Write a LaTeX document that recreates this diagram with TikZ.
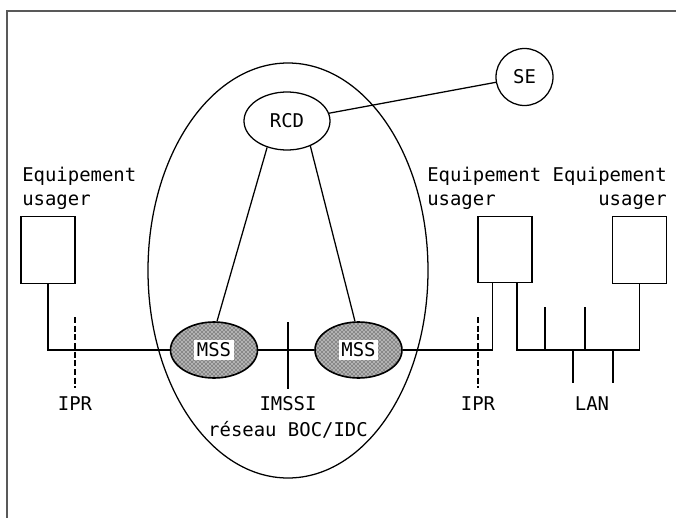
\documentclass[tikz,border=0pt]{standalone}
\usepackage{fontspec}
\setmainfont{DejaVu Sans Mono}
\usetikzlibrary{shapes.geometric,patterns}
\begin{document}
\begin{tikzpicture}[x=0.75pt,y=-0.75pt,
  every node/.style={font=\fontsize{14.2pt}{18pt}\selectfont},
  ln/.style={line width=0.95pt},
  frame/.style={line width=1.5pt,draw=black!65},
  oval/.style={ellipse,draw,line width=0.95pt,inner sep=0pt},
  mssnode/.style={oval,line width=1.2pt,preaction={fill=gray!60},pattern=crosshatch dots,
    minimum width=65.25pt,minimum height=42pt},
  box/.style={rectangle,draw,line width=0.95pt,inner sep=0pt,
    minimum width=40.5pt,minimum height=50pt},
  ipr/.style={line width=0.95pt,dash pattern=on 4.5pt off 2pt},
  lbl/.style={inner sep=0pt}]
\useasboundingbox (0,0) rectangle (676,518);
% frame
\draw[frame] (7,518) -- (7,11) -- (676,11);
% network ellipse
\node[oval,minimum width=210pt,minimum height=311.25pt] (net) at (288,270.5) {};
% nodes
\node[oval,minimum width=64.5pt,minimum height=43.5pt] (rcd) at (287,121) {RCD};
\node[oval,circle,minimum size=42.75pt] (se) at (524.5,77) {SE};
\node[mssnode] (mss1) at (214,350) {\setlength{\fboxsep}{2pt}\colorbox{white}{MSS}};
\node[mssnode] (mss2) at (358.5,350) {\setlength{\fboxsep}{2pt}\colorbox{white}{MSS}};
\node[box] (lb) at (48,250) {};
\node[box] (rb1) at (505,249.5) {};
\node[box] (rb2) at (639.5,250) {};
% labels
\node[lbl,anchor=north west,align=left] (lbltxt) at (22,167) {Equipement\\usager};
\node[lbl,anchor=north west,align=left] (rb1txt) at (427,167) {Equipement\\usager};
\node[lbl,anchor=north east,align=right] (rb2txt) at (667,167) {Equipement\\usager};
\node[lbl,anchor=base] (ipr1) at (75,410) {IPR};
\node[lbl,anchor=base] (ipr2) at (478,410) {IPR};
\node[lbl,anchor=base] (lan) at (592,410) {LAN};
\node[lbl,anchor=north,align=center,font=\fontsize{14.2pt}{19.5pt}\selectfont] (imssi) at (288,396) {IMSSI\\réseau BOC/IDC};
% connectors
\draw[ln] (rcd) -- (se);
\draw[ln] (rcd.233) -- (mss1.84);
\draw[ln] (rcd.313) -- (mss2.97);
\draw[ln] (lb.south) |- (mss1.west);
\draw[ln] (mss1.east) -- (mss2.west);
\draw[ln] (mss2.east) -| ([xshift=-9.4pt]rb1.south);
\coordinate (busR) at (639.5,350);
\draw[ln] ([xshift=9pt]rb1.south) |- (busR) -- (rb2.south);
% LAN stubs
\coordinate (u1t) at (545,307); \coordinate (u1b) at (545,350);
\coordinate (u2t) at (585,307); \coordinate (u2b) at (585,350);
\coordinate (d1t) at (573,350); \coordinate (d1b) at (573,383);
\coordinate (d2t) at (613,350); \coordinate (d2b) at (613,383);
\draw[ln] (u1t) -- (u1b);
\draw[ln] (u2t) -- (u2b);
\draw[ln] (d1t) -- (d1b);
\draw[ln] (d2t) -- (d2b);
% interface lines
\coordinate (i1t) at (75,317); \coordinate (i1b) at (75,388);
\coordinate (i2t) at (478,317); \coordinate (i2b) at (478,388);
\coordinate (imt) at (288,322); \coordinate (imb) at (288,389);
\draw[ipr] (i1t) -- (i1b);
\draw[ipr] (i2t) -- (i2b);
\draw[ln] (imt) -- (imb);
\end{tikzpicture}
\end{document}
